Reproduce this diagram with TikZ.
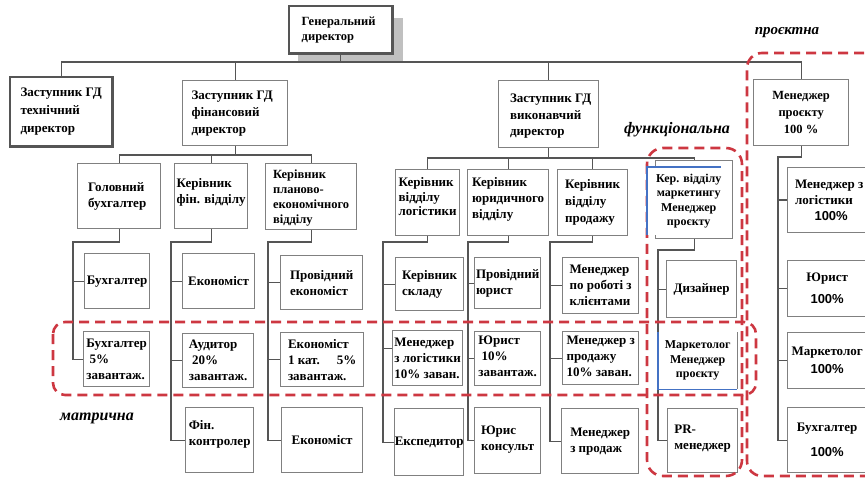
\documentclass[tikz,border=0pt]{standalone}
\usepackage{fontspec}
\setmainfont{Liberation Serif}
\newfontfamily\pctfont{Liberation Sans}
\definecolor{boxgray}{RGB}{128,128,128}
\definecolor{linegray}{RGB}{85,85,85}
\definecolor{shadowgray}{RGB}{192,192,192}
\definecolor{dashred}{RGB}{205,55,65}
\definecolor{edgeblue}{RGB}{68,114,196}

% box given by its corners (x1,y1) and (x2,y2), y growing downwards;
% the text is set in its own node so that long lines may overrun the frame
\newcommand\orgbox[7][]{%
  \pgfmathsetmacro\obw{#5-#3}%
  \pgfmathsetmacro\obh{#6-#4}%
  \node[box,minimum width=\obw pt,minimum height=\obh pt] (#2) at (#3,#4) {};
  \node[boxtext,#1] (#2-t) at (#2.center) {#7};}

\begin{document}
\begin{tikzpicture}[x=1pt,y=-1pt,
  box/.style={draw=boxgray,line width=1.3pt,fill=white,inner sep=0pt,anchor=north west},
  boxtext/.style={inner sep=0pt,align=left,font=\bfseries\fontsize{13}{16}\selectfont},
  heavy/.style={draw=linegray,line width=2.6pt},
  conn/.style={draw=linegray,line width=1.3pt},
  zone/.style={draw=dashred,line width=2.6pt,dash pattern=on 10pt off 6pt},
  zonelabel/.style={font=\bfseries\itshape\fontsize{16}{18}\selectfont},
  cover/.style={fill=white,inner sep=0pt,anchor=north west,align=center,
    font=\bfseries\fontsize{12}{14.5}\selectfont},
  blueedge/.style={draw=edgeblue,line width=1.6pt}]
\useasboundingbox (0,0) rectangle (865,481);

% ---- top management ----
\fill[shadowgray] (298,18) rectangle (403,63);
\orgbox[font=\bfseries\fontsize{12.5}{15}\selectfont,xshift=-2pt]{gd}{289}{6}{391}{52}{Генеральний\\директор}
\draw[heavy] (gd.north west) rectangle (gd.south east);
\orgbox[font=\bfseries\fontsize{13}{18}\selectfont]{tech}{10}{77}{111}{145}{Заступник ГД\\технічний\\директор}
\draw[heavy] (tech.north west) rectangle (tech.south east);
\orgbox[font=\bfseries\fontsize{13}{17}\selectfont,xshift=-3pt]{fin}{182}{80}{287}{145}{Заступник ГД\\фінансовий\\директор}
\orgbox[font=\bfseries\fontsize{13}{16.5}\selectfont,xshift=2pt,yshift=-2pt]{exec}{498}{80}{598}{147}{Заступник ГД\\виконавчий\\директор}
\orgbox[align=center,font=\bfseries\fontsize{12.5}{17}\selectfont]{pm}{753}{79}{848}{145}{Менеджер\\проєкту\\100 \%}

% ---- financial branch ----
\orgbox[xshift=-2pt]{gb}{77}{163}{160}{228}{Головний\\бухгалтер}
\orgbox[yshift=4pt]{kf}{174}{163}{247}{228}{Керівник\\фін. відділу}
\orgbox[font=\bfseries\fontsize{12.5}{15}\selectfont,yshift=-1pt]{kpe}{265}{163}{356}{229}{Керівник\\планово-\\економічного\\відділу}
\orgbox{b1}{84}{253}{149}{308}{Бухгалтер}
\orgbox{b2}{83}{331}{149}{386}{Бухгалтер\\\hspace*{0.25em}5\%\\завантаж.}
\orgbox{e1}{182}{253}{254}{308}{Економіст}
\orgbox{au}{182}{333}{253}{387}{Аудитор\\\hspace*{0.25em}20\%\\завантаж.}
\orgbox[yshift=6pt]{fk}{185}{407}{253}{472}{Фін.\\контролер}
\orgbox{pe}{280}{255}{362}{309}{Провідний\\економіст}
\orgbox{e1k}{280}{332}{363}{386}{Економіст\\1 кат.\hspace{1.3em}5\%\\завантаж.}
\orgbox{ek}{281}{407}{362}{472}{Економіст}

% ---- executive branch ----
\orgbox[font=\bfseries\fontsize{13}{14.5}\selectfont,yshift=6pt]{kl}{395}{169}{459}{235}{Керівник\\відділу\\логістики}
\orgbox[yshift=3pt]{kyu}{467}{169}{548}{235}{Керівник\\юридичного\\відділу}
\orgbox[font=\bfseries\fontsize{13}{17}\selectfont]{kp}{557}{169}{627}{235}{Керівник\\відділу\\продажу}
\orgbox{ks}{395}{257}{463}{310}{Керівник\\складу}
\orgbox{ml}{392}{330}{462}{385}{Менеджер\\з логістики\\10\% заван.}
\orgbox{exped}{394}{408}{463}{475}{Експедитор}
\orgbox{pyu}{474}{257}{540}{308}{Провідний\\юрист}
\orgbox[yshift=2pt]{yu}{474}{331}{540}{385}{Юрист\\\hspace*{0.25em}10\%\\завантаж.}
\orgbox[yshift=1pt]{yk}{474}{407}{540}{473}{Юрис\\консульт}
\orgbox{mrk}{562}{257}{638}{313}{Менеджер\\по роботі з\\клієнтами}
\orgbox[yshift=2pt]{mzp}{562}{331}{638}{384}{Менеджер з\\продажу\\10\% заван.}
\orgbox{mzpr}{561}{408}{638}{473}{Менеджер\\з продаж}

% ---- marketing ----
\orgbox{mk}{655}{160}{732}{238}{}
\orgbox{diz}{666}{260}{736}{317}{Дизайнер}
\orgbox[yshift=2pt]{pr}{667}{408}{737}{472}{PR-\\менеджер}

% ---- project team ----
\orgbox[xshift=-1pt]{r1}{787}{167}{872}{232}{Менеджер з\\логістики\\\hspace*{1.5em}{\pctfont 100\%}}
\orgbox[align=center,font=\bfseries\fontsize{13}{22}\selectfont,xshift=-3pt]{r2}{787}{260}{872}{316}{Юрист\\{\pctfont 100\%}}
\orgbox[align=center,font=\bfseries\fontsize{13}{18}\selectfont,xshift=-3pt]{r3}{787}{332}{872}{388}{Маркетолог\\{\pctfont 100\%}}
\orgbox[align=center,font=\bfseries\fontsize{13}{25}\selectfont,xshift=-3pt]{r4}{787}{407}{872}{472}{Бухгалтер\\{\pctfont 100\%}}

% ---- connectors ----
\coordinate (bus) at (0,62);
\draw[conn] (tech.north) -- (tech.north |- bus) -- (pm.north |- bus) -- (pm.north);
\draw[conn] (gd.south) -- (gd.south |- bus);
\draw[conn] (fin.north) -- (fin.north |- bus);
\draw[conn] (exec.north) -- (exec.north |- bus);

\coordinate (fbus) at (0,155);
\draw[conn] (fin.south) -- (fin.south |- fbus);
\draw[conn] (gb.north) -- (gb.north |- fbus) -- (kpe.north |- fbus) -- (kpe.north);
\draw[conn] (kf.north) -- (kf.north |- fbus);

\coordinate (ebus) at (0,158);
\draw[conn] (exec.south) -- (exec.south |- ebus);
\draw[conn] (kl.north) -- (kl.north |- ebus) -- (mk.north |- ebus) -- (mk.north);
\draw[conn] (kyu.north) -- (kyu.north |- ebus);
\draw[conn] (kp.north) -- (kp.north |- ebus);

\coordinate (s1) at (73,242);
\draw[conn] (gb.south) |- (s1) |- (b2.west);
\draw[conn] (s1) |- (b1.west);
\coordinate (s2) at (171,242);
\draw[conn] (kf.south) |- (s2) |- (fk.west);
\draw[conn] (s2) |- (e1.west);
\draw[conn] (s2) |- (au.west);
\coordinate (s3) at (268,242);
\draw[conn] (kpe.south) |- (s3) |- (ek.west);
\draw[conn] (s3) |- (pe.west);
\draw[conn] (s3) |- (e1k.west);
\coordinate (s4) at (383,242);
\draw[conn] (kl.south) |- (s4) |- (exped.west);
\draw[conn] (s4) |- (ks.west);
\draw[conn] (s4) |- ([yshift=10pt]ml.west);
\coordinate (s5) at (468,242);
\draw[conn] (kyu.south) |- (s5) |- (yk.west);
\draw[conn] (s5) |- (pyu.west);
\draw[conn] (s5) |- (yu.west);
\coordinate (s6) at (550,242);
\draw[conn] (kp.south) |- (s6) |- (mzpr.west);
\draw[conn] (s6) |- (mrk.west);
\draw[conn] (s6) |- (mzp.west);
\coordinate (s7) at (658,250);
\draw[conn] (mk.south) |- (s7) |- (pr.west);
\draw[conn] (s7) |- (diz.west);
\coordinate (s8) at (778,157);
\draw[conn] (pm.south) |- (s8) |- (r4.west);
\draw[conn] (s8) |- (r1.west);
\draw[conn] (s8) |- (r2.west);
\draw[conn] (s8) |- (r3.west);

% ---- structure zones ----
\draw[zone,rounded corners=12pt] (53,322) rectangle (756,395);
\draw[zone,rounded corners=16pt] (647,148) rectangle (742,476);
\draw[zone,rounded corners=15pt] (880,53) -- (747,53) -- (747,476) -- (880,476);

% ---- marketing cards with blue edges ----
\node[cover,minimum width=83pt,minimum height=68pt] (mkcard) at (647,167)
  {Кер. відділу\\маркетингу\\Менеджер\\проєкту};
\draw[blueedge] (mkcard.south west) -- (mkcard.north west) -- ([xshift=-9pt]mkcard.north east);
\node[cover,minimum width=79pt,minimum height=57pt] (mtcard) at (658,332)
  {Маркетолог\\Менеджер\\проєкту};
\draw[boxgray,line width=0.8pt] (mtcard.north east) -- (mtcard.south east);
\draw[blueedge] (mtcard.north west) -- (mtcard.south west) -- (mtcard.south east);

% ---- zone labels ----
\node[zonelabel,font=\bfseries\itshape\fontsize{15}{18}\selectfont] (lproj) at (787,33) {проєктна};
\node[zonelabel] (lfunc) at (677,130) {функціональна};
\node[zonelabel] (lmat) at (97,418) {матрична};
\end{tikzpicture}
\end{document}
